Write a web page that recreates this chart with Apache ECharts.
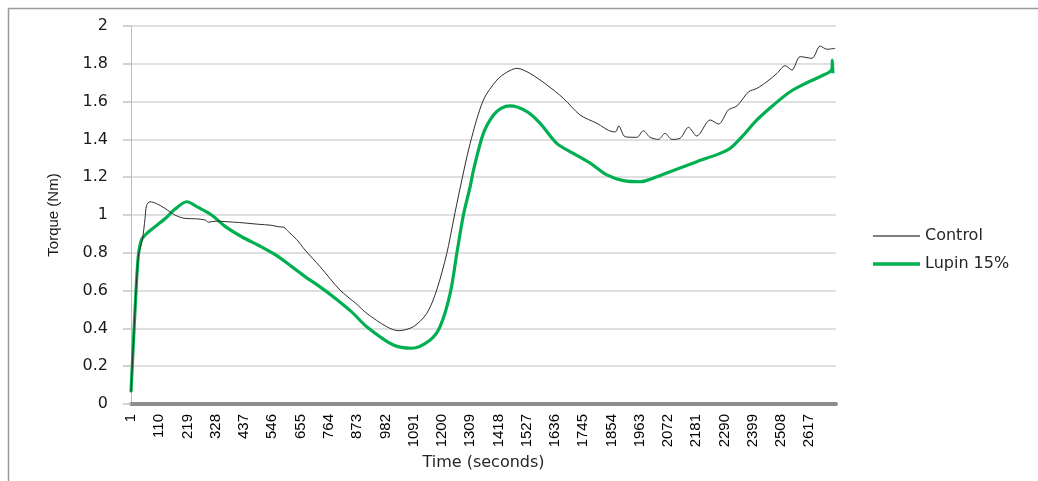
<!DOCTYPE html>
<html>
<head>
<meta charset="utf-8">
<script src="https://cdn.jsdelivr.net/npm/echarts@6/dist/echarts.min.js"></script>
<style>
  html, body { margin: 0; padding: 0; background: #fff; }
  #chart { width: 1038px; height: 481px; }
</style>
</head>
<body>
<div id="chart"></div>
<script>
// time axis runs 1..2720 s, one category per second (Excel category axis)
const lastSecond = 2720
const timeCategories = []
for (let s = 1; s <= lastSecond; s++) timeCategories.push(String(s))

const yTicks = [0, 0.2, 0.4, 0.6, 0.8, 1, 1.2, 1.4, 1.6, 1.8, 2]

// Control
const controlTime = [1, 16, 29, 45, 55, 61, 74, 100, 132, 170, 209, 250, 286, 300, 330, 364, 420, 492, 540, 569, 590, 608, 640,
  672, 730, 807, 870, 910, 987, 1032, 1090, 1142, 1180, 1219, 1245, 1270, 1309, 1360, 1412, 1450, 1489, 1540, 1605, 1669,
  1733, 1798, 1856, 1870, 1882, 1907, 1952, 1977, 2003, 2035, 2061, 2087, 2119, 2151, 2183, 2235, 2267, 2305, 2338, 2383,
  2415, 2454, 2492, 2524, 2550, 2582, 2627, 2659, 2685, 2717]
const controlTorque = [0.06, 0.48, 0.78, 0.87, 0.98, 1.05, 1.07, 1.06, 1.035, 1.0, 0.982, 0.98, 0.974, 0.962, 0.968, 0.965, 0.96, 0.951, 0.946, 0.938, 0.935, 0.912, 0.87,
  0.815, 0.727, 0.603, 0.53, 0.48, 0.409, 0.388, 0.409, 0.48, 0.603, 0.797, 0.974, 1.14, 1.379, 1.608, 1.714, 1.755, 1.776, 1.749, 1.688, 1.617,
  1.529, 1.485, 1.441, 1.44, 1.471, 1.414, 1.411, 1.446, 1.411, 1.40, 1.432, 1.40, 1.406, 1.464, 1.418, 1.503, 1.481, 1.556, 1.577, 1.652,
  1.67, 1.706, 1.749, 1.79, 1.767, 1.838, 1.829, 1.894, 1.877, 1.882]

// Lupin 15%
const lupinTime = [1, 16, 29, 42, 68, 100, 132, 170, 216, 260, 312, 364, 428, 492, 557, 621, 672, 730, 781, 850, 910, 1013,
  1084, 1155, 1193, 1232, 1258, 1283, 1309, 1322, 1360, 1399, 1430, 1463, 1528, 1579, 1643, 1707, 1772, 1836, 1900, 1965,
  2003, 2080, 2183, 2273, 2312, 2363, 2415, 2479, 2543, 2608, 2659, 2704, 2706, 2708]
const lupinTorque = [0.065, 0.48, 0.78, 0.87, 0.91, 0.945, 0.98, 1.03, 1.07, 1.04, 1.0, 0.94, 0.885, 0.84, 0.79, 0.727, 0.674, 0.62, 0.568, 0.49, 0.409, 0.312,
  0.295, 0.339, 0.409, 0.585, 0.8, 1.0, 1.15, 1.238, 1.432, 1.529, 1.565, 1.577, 1.547, 1.485, 1.379, 1.326, 1.274, 1.212, 1.182, 1.176,
  1.189, 1.229, 1.282, 1.326, 1.353, 1.423, 1.503, 1.582, 1.652, 1.70, 1.732, 1.771, 1.82, 1.75]

function pairs(times, values) {
  return times.map((t, i) => [String(t), values[i]])
}

const chart = echarts.init(document.getElementById('chart'), null, { renderer: 'canvas' })

chart.setOption({
  backgroundColor: '#fff',
  animation: false,
  graphic: [
    {
      type: 'rect',
      shape: { x: 8.5, y: 8.5, width: 1040, height: 480 },
      style: { fill: 'none', stroke: '#9a9a9a', lineWidth: 1.5 },
      silent: true,
    },
  ],
  grid: { left: 131, right: 202, top: 26, bottom: 77, containLabel: false },
  legend: {
    orient: 'vertical',
    left: 868,
    top: 223,
    itemWidth: 47,
    itemHeight: 14,
    itemGap: 12,
    textStyle: { color: '#262626', fontSize: 16, fontFamily: 'DejaVu Sans' },
    data: [
      { name: 'Control', icon: 'path://M0,0L47,0L47,1.4L0,1.4Z', itemStyle: { color: '#555' } },
      { name: 'Lupin 15%', icon: 'path://M0,0L47,0L47,3.6L0,3.6Z', itemStyle: { color: '#00b050' } },
    ],
  },
  xAxis: {
    type: 'category',
    data: timeCategories,
    boundaryGap: false,
    offset: 2,
    name: 'Time (seconds)',
    nameLocation: 'middle',
    nameGap: 47,
    nameTextStyle: { color: '#262626', fontSize: 16, fontFamily: 'DejaVu Sans' },
    axisLine: { lineStyle: { color: '#8c8c8c', width: 4 } },
    axisTick: { show: false },
    axisLabel: {
      interval: 108,
      rotate: 90,
      margin: 8,
      color: '#000',
      fontSize: 15,
      fontFamily: 'Liberation Sans',
    },
    splitLine: { show: false },
  },
  yAxis: {
    type: 'value',
    min: yTicks[0],
    max: yTicks[yTicks.length - 1],
    interval: 0.2,
    name: 'Torque (Nm)',
    nameLocation: 'middle',
    nameRotate: 90,
    nameGap: 70,
    nameTextStyle: { color: '#1a1a1a', fontSize: 15, fontFamily: 'Liberation Sans' },
    axisLine: { show: true, lineStyle: { color: '#bdbdbd', width: 1 } },
    axisTick: { show: true, length: 8, lineStyle: { color: '#c4c4c4', width: 1.5 } },
    axisLabel: {
      margin: 23,
      color: '#1a1a1a',
      fontSize: 16,
      fontFamily: 'DejaVu Sans',
      formatter: (v) => String(Math.round(v * 10) / 10),
    },
    splitLine: { lineStyle: { color: '#d4d4d4', width: 1.5 } },
  },
  series: [
    {
      name: 'Control',
      type: 'line',
      data: pairs(controlTime, controlTorque),
      smooth: 0.3,
      symbol: 'none',
      lineStyle: { color: '#2e2e2e', width: 1 },
      itemStyle: { color: '#555' },
      z: 3,
    },
    {
      name: 'Lupin 15%',
      type: 'line',
      data: pairs(lupinTime, lupinTorque),
      smooth: 0.3,
      symbol: 'none',
      lineStyle: { color: '#00b050', width: 3.2 },
      itemStyle: { color: '#00b050' },
      z: 2,
    },
  ],
})
</script>
</body>
</html>
